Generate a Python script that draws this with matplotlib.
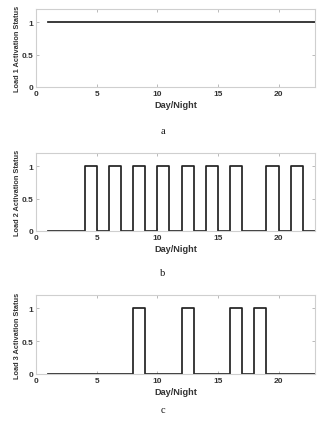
import matplotlib
matplotlib.use("Agg")
import matplotlib.pyplot as plt
import numpy as np

# Hourly time steps
hours = list(range(1, 24))

# Activation status of each load per hour (stairs, value holds until next hour)
load1 = [1] * 23
load2 = [0, 0, 0, 1, 0, 1, 0, 1, 0, 1, 0, 1, 0, 1, 0, 1, 0, 0, 1, 0, 1, 0, 0]
load3 = [0, 0, 0, 0, 0, 0, 0, 1, 0, 0, 0, 1, 0, 0, 0, 1, 0, 1, 0, 0, 0, 0, 0]

ylabels = ["Load 1 Activation Status", "Load 2 Activation Status", "Load 3 Activation Status"]
panel_tags = ["a", "b", "c"]
xticks = [0, 5, 10, 15, 20]
yticks = [0, 0.5, 1]
ytick_labels = ["0", "0.5", "1"]

W, H = 331, 427
fig = plt.figure(figsize=(W / 100, H / 100), dpi=100)

# axes boxes in pixels: (left, top, right, bottom)
boxes = [(36, 10, 315, 88), (36, 154, 315, 232), (36, 296, 315, 375)]
tag_y = [131, 273, 411]

spine_col = "#cfcfcf"
sans = ["Liberation Sans", "DejaVu Sans"]

for series, ylab, tag, box, ty in zip([load1, load2, load3], ylabels, panel_tags, boxes, tag_y):
    l, t, r, b = box
    ax = fig.add_axes([l / W, 1 - b / H, (r - l) / W, (b - t) / H])
    ax.step(hours, series, where="post", color="#222222", lw=1.25)
    ax.set_xlim(0, 23)
    ax.set_ylim(0, 1.2)
    ax.set_xticks(xticks)
    ax.set_yticks(yticks)
    ax.set_yticklabels(ytick_labels)
    for s in ax.spines.values():
        s.set_color(spine_col)
        s.set_linewidth(0.8)
    ax.tick_params(direction="in", length=2.5, width=0.6, color="#b0b0b0",
                   top=True, right=True, labelsize=6.0, pad=2)
    for lbl in ax.get_xticklabels() + ax.get_yticklabels():
        lbl.set_fontweight("bold")
        lbl.set_family(sans)
        lbl.set_color("#333333")
    ax.set_xlabel("Day/Night", fontsize=6.6, fontweight="bold", family=sans,
                  color="#333333", labelpad=2)
    ax.set_ylabel(ylab, fontsize=5.3, fontweight="bold", family=sans,
                  color="#333333", labelpad=0.5)
    fig.text(163 / W, 1 - ty / H, tag, ha="center", va="center",
             fontsize=7.5, family=["Liberation Serif", "DejaVu Serif"], color="#111111")

fig.savefig("out.png", dpi=100, facecolor="white")
